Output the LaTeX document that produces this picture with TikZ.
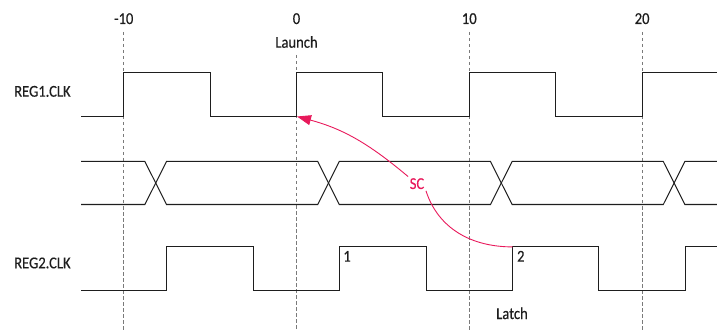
\documentclass[tikz,border=0pt]{standalone}
\usepackage{fontspec}
\setmainfont{Carlito}[FakeStretch=0.88, FakeBold=0.4]
\usetikzlibrary{arrows.meta}
\definecolor{wave}{HTML}{1E1E1E}
\definecolor{grid}{HTML}{7A7A7A}
\definecolor{sccol}{HTML}{E8195B}
\tikzset{
  wavestyle/.style={draw=wave, line width=1pt, line join=miter},
  gridline/.style={draw=grid, line width=0.7pt, dash pattern=on 3.5pt off 2.5pt},
  lbl/.style={font=\fontsize{16.6}{18}\selectfont, text=wave, inner sep=0pt, anchor=base},
  sclbl/.style={font=\fontsize{16.6}{18}\selectfont, text=sccol, inner sep=1.5pt},
  scarrow/.style={draw=sccol, line width=0.9pt}
}
\begin{document}
\begin{tikzpicture}[x=1pt,y=1pt]
\useasboundingbox (0,0) rectangle (717,-331);
% tick labels
\node[lbl] (tm10) at (123.7,-24) {-10};
\node[lbl] (t0)   at (296.5,-24) {0};
\node[lbl] (t10)  at (469.3,-24) {10};
\node[lbl] (t20)  at (642.1,-24) {20};
\node[lbl] (launchlbl) at (296.5,-47.7) {Launch};
% grid lines
\draw[gridline] (123.7,-32) -- (123.7,-331);
\draw[gridline] (296.5,-55) -- (296.5,-331);
\draw[gridline] (469.3,-32) -- (469.3,-331);
\draw[gridline] (642.1,-32) -- (642.1,-331);
% signal names
\node[lbl, anchor=base west] (reg1) at (14,-96.7) {REG1.CLK};
\node[lbl, anchor=base west] (reg2) at (14,-268.3) {REG2.CLK};
% REG1 clock
\draw[wavestyle] (81,-116.5) -- (123.7,-116.5) -- (123.7,-72.5) -- (210.1,-72.5) -- (210.1,-116.5)
  -- (296.5,-116.5) -- (296.5,-72.5) -- (382.9,-72.5) -- (382.9,-116.5) -- (469.3,-116.5)
  -- (469.3,-72.5) -- (555.7,-72.5) -- (555.7,-116.5) -- (642.1,-116.5) -- (642.1,-72.5) -- (717,-72.5);
% data bus
\draw[wavestyle] (81,-161.5) -- (144.9,-161.5) -- (166.5,-204.5) -- (317.7,-204.5) -- (339.3,-161.5) -- (490.5,-161.5)
  -- (512.1,-204.5) -- (663.3,-204.5) -- (684.9,-161.5) -- (717,-161.5);
\draw[wavestyle] (81,-204.5) -- (144.9,-204.5) -- (166.5,-161.5) -- (317.7,-161.5) -- (339.3,-204.5) -- (490.5,-204.5)
  -- (512.1,-161.5) -- (663.3,-161.5) -- (684.9,-204.5) -- (717,-204.5);
% REG2 clock
\draw[wavestyle] (81,-290.5) -- (166.9,-290.5) -- (166.9,-246.5) -- (253.3,-246.5) -- (253.3,-290.5)
  -- (339.7,-290.5) -- (339.7,-246.5) -- (426.1,-246.5) -- (426.1,-290.5) -- (512.5,-290.5)
  -- (512.5,-246.5) -- (598.9,-246.5) -- (598.9,-290.5) -- (685.3,-290.5) -- (685.3,-246.5) -- (717,-246.5);
% edge labels
\node[lbl] (e1) at (347,-261.7) {1};
\node[lbl] (e2) at (520.8,-261.7) {2};
\node[lbl] (latchlbl) at (512,-319) {Latch};
% setup relationship
\coordinate (launch) at (297,-116.5);
\coordinate (latch) at (512.5,-246.9);
\node[sclbl, anchor=base] (sc) at (417,-189) {SC};
\draw[scarrow] (latch) to[out=180,in=-72] (sc.south east);
\draw[scarrow, -{Triangle[length=14pt,width=10pt]}] (sc.north west) to[out=140,in=-15] (launch);
\end{tikzpicture}
\end{document}
